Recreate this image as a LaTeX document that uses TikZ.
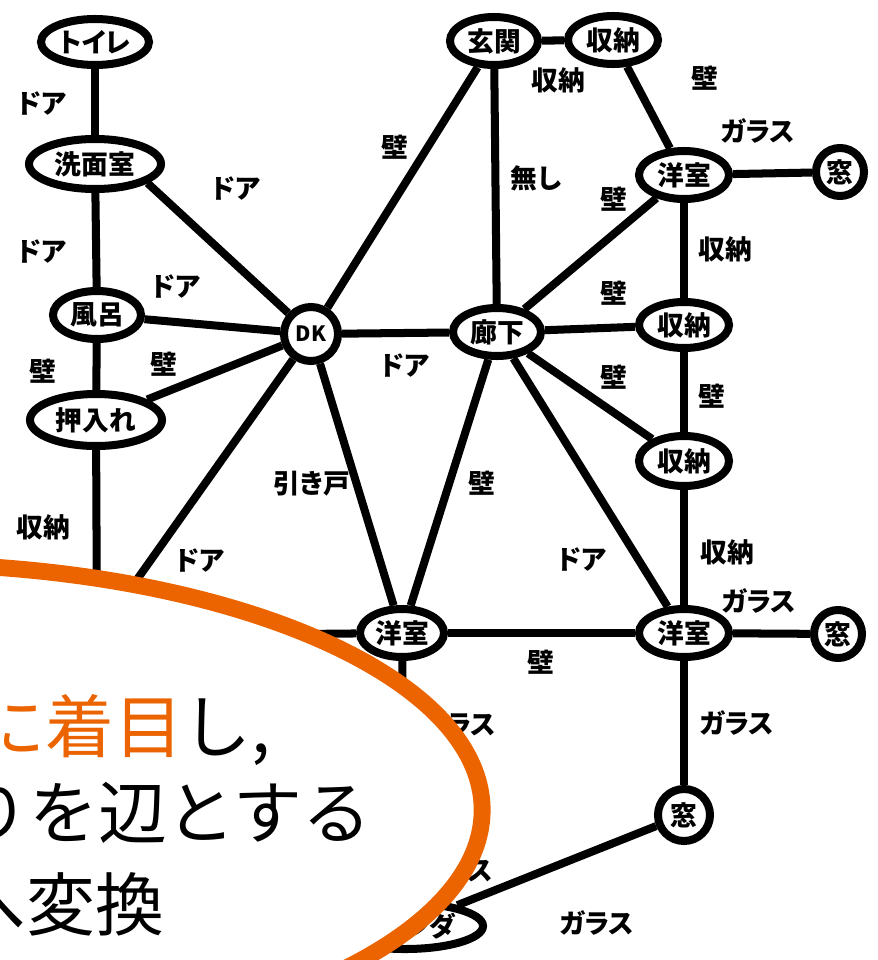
\documentclass[tikz,border=0pt]{standalone}
\usepackage{fontspec}
\usetikzlibrary{shapes.geometric}
\newfontfamily\jpgfont[RawFeature=+palt]{Noto Sans CJK JP}
\newfontfamily\jpfont{Noto Sans CJK JP}
\definecolor{calloutorange}{RGB}{235,100,0}
\newcommand\grfont{\jpgfont\bfseries\fontsize{19pt}{22pt}\selectfont}
\newcommand\msgfont{\jpfont\fontsize{49pt}{56pt}\selectfont}

\begin{document}
\begin{tikzpicture}[x=0.025cm, y=-0.025cm,
      room/.style={ellipse, draw, line width=5.7pt, fill=white, inner sep=0pt,
        minimum width=2.25cm, minimum height=1.2cm, font=\grfont},
      win/.style={circle, draw, line width=5.7pt, fill=white, inner sep=0pt,
        minimum size=1.2cm, font=\grfont},
      link/.style={line width=5.7pt},
      lbl/.style={inner sep=0pt, font=\grfont},
      speech/.style={ellipse, draw=calloutorange, line width=12pt, fill=white,
        inner sep=0pt, minimum width=29.1cm, minimum height=12.3cm},
      msg/.style={inner sep=0pt, anchor=base west, font=\msgfont}]
      \useasboundingbox (0,0) rectangle (877,960);
      \clip (0,0) rectangle (877,960);
      % rooms
      \node[room, minimum width=2.7cm, minimum height=1.15cm](toilet) at (95, 42){トイレ};
      \node[room, minimum width=3.3cm, minimum height=1.25cm](senmen) at (95, 164){洗面室};
      \node[room, minimum width=2.2cm](furo) at (97, 315){風呂};
      \node[room, minimum width=3.3cm, minimum height=1.3cm](oshiire) at (96, 420){押入れ};
      \node[win, minimum size=1.35cm, font=\jpgfont\bfseries\fontsize{15pt}{18pt}\selectfont](dk) at (311, 334){DK};
      \node[room, minimum width=2.2cm](genkan) at (494, 41){玄関};
      \node[room](shunoA) at (613, 40){収納};
      \node[room](youA) at (684, 175){洋室};
      \node[win](madoA) at (840, 172){窓};
      \node[room, minimum width=2.2cm](rouka) at (497, 332){廊下};
      \node[room, minimum height=1.15cm](shunoB) at (684, 325){収納};
      \node[room, minimum height=1.25cm](shunoC) at (684, 461){収納};
      \node[room](youB) at (684, 633){洋室};
      \node[win](madoB) at (838, 634){窓};
      \node[room, minimum width=2.1cm](youC) at (402, 633){洋室};
      \node[win, minimum size=1.3cm](madoC) at (684, 815){窓};
      \node[room, minimum width=3.9cm, minimum height=1.15cm](veranda) at (405, 926){ベランダ};
      \coordinate(hidden) at (97, 636);
      % connections
      \draw[link] (toilet) -- (senmen);
      \draw[link] (senmen) -- (furo);
      \draw[link] (furo) -- (oshiire);
      \draw[link] (oshiire) -- (hidden);
      \draw[link] (senmen.-20) -- (dk);
      \draw[link] (furo) -- (dk);
      \draw[link] (oshiire) -- (dk);
      \draw[link] (dk) -- (hidden);
      \draw[link] (dk) -- (youC);
      \draw[link] (dk) -- (genkan);
      \draw[link] (dk) -- (rouka);
      \draw[link] (genkan) -- (rouka);
      \draw[link] (genkan) -- (shunoA);
      \draw[link] (shunoA) -- (youA);
      \draw[link] (youA) -- (madoA);
      \draw[link] (youA) -- (rouka);
      \draw[link] (youA) -- (shunoB);
      \draw[link] (rouka) -- (shunoB);
      \draw[link] (rouka) -- (shunoC);
      \draw[link] (shunoB) -- (shunoC);
      \draw[link] (rouka) -- (youC);
      \draw[link] (rouka) -- (youB);
      \draw[link] (shunoC) -- (youB);
      \draw[link] (youB) -- (madoB);
      \draw[link] (youC) -- (youB);
      \draw[link] (youC) -- (hidden);
      \draw[link] (youC) -- (veranda);
      \draw[link] (youB) -- (madoC);
      \draw[link] (madoC) -- (veranda);
      % labels
      \node[lbl](lbToiSen) at (42, 104){ドア};
      \node[lbl](lbSenFuro) at (42, 252){ドア};
      \node[lbl](lbFuroOshi) at (43, 371){壁};
      \node[lbl](lbOshiHid) at (43, 527){収納};
      \node[lbl](lbSenDk) at (236, 189){ドア};
      \node[lbl](lbFuroDk) at (176, 287){ドア};
      \node[lbl](lbOshiDk) at (164, 364){壁};
      \node[lbl](lbDkHid) at (200, 561){ドア};
      \node[lbl](lbDkYouC) at (312, 484){引き戸};
      \node[lbl](lbDkGen) at (395, 147){壁};
      \node[lbl](lbDkRou) at (405, 366){ドア};
      \node[lbl](lbGenRou) at (536, 178){無し};
      \node[lbl](lbGenShu) at (558, 80){収納};
      \node[lbl](lbShuYouA) at (705, 78){壁};
      \node[lbl](lbYouAMado) at (758, 131){ガラス};
      \node[lbl](lbYouARou) at (614, 199){壁};
      \node[lbl](lbYouAShuB) at (725, 249){収納};
      \node[lbl](lbRouShuB) at (614, 293){壁};
      \node[lbl](lbRouShuC) at (614, 377){壁};
      \node[lbl](lbShuBShuC) at (712, 396){壁};
      \node[lbl](lbRouYouC) at (482, 483){壁};
      \node[lbl](lbRouYouB) at (582, 560){ドア};
      \node[lbl](lbShuCYouB) at (727, 552){収納};
      \node[lbl](lbYouBMado) at (759, 601){ガラス};
      \node[lbl](lbYouCYouB) at (541, 662){壁};
      \node[lbl](lbYouBMadoC) at (737, 723){ガラス};
      \node[lbl](lbYouCVer) at (459, 724){ガラス};
      \node[lbl](lbHidVer) at (456, 870){ガラス};
      \node[lbl](lbMadoVer) at (597, 923){ガラス};
      % callout
      \node[speech](bubble) at (-100, 810){};
      \node[msg](msgA) at (-24, 752){\textcolor{calloutorange}{に着目}し,};
      \node[msg](msgB) at (-40, 838){りを辺とする};
      \node[msg](msgC) at (-43, 930){へ変換};
    \end{tikzpicture}
\end{document}
